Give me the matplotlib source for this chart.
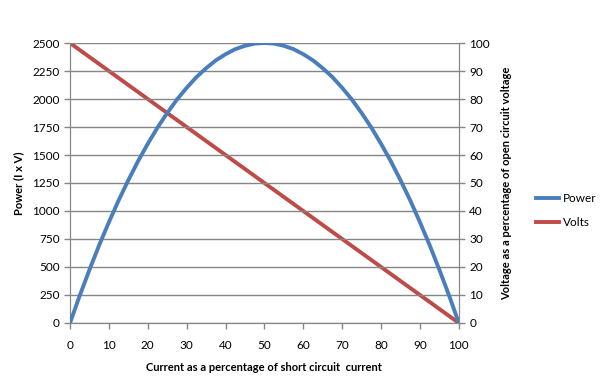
import matplotlib
matplotlib.use("Agg")
import matplotlib.pyplot as plt
from matplotlib.lines import Line2D

plt.rcParams['font.family'] = ['Lato', 'DejaVu Sans']

current = [0, 2.5, 5, 7.5, 10, 12.5, 15, 17.5, 20, 22.5, 25, 27.5, 30, 32.5, 35,
           37.5, 40, 42.5, 45, 47.5, 50, 52.5, 55, 57.5, 60, 62.5, 65, 67.5, 70,
           72.5, 75, 77.5, 80, 82.5, 85, 87.5, 90, 92.5, 95, 97.5, 100]
power = [0, 245, 475, 695, 900, 1095, 1275, 1445, 1600, 1745, 1875, 1995, 2100,
         2195, 2275, 2345, 2400, 2445, 2475, 2495, 2500, 2495, 2475, 2445, 2400,
         2345, 2275, 2195, 2100, 1995, 1875, 1745, 1600, 1445, 1275, 1095, 900,
         695, 475, 245, 0]
volts = [100, 97.5, 95, 92.5, 90, 87.5, 85, 82.5, 80, 77.5, 75, 72.5, 70, 67.5,
         65, 62.5, 60, 57.5, 55, 52.5, 50, 47.5, 45, 42.5, 40, 37.5, 35, 32.5, 30,
         27.5, 25, 22.5, 20, 17.5, 15, 12.5, 10, 7.5, 5, 2.5, 0]

blue = '#4a7ebb'
red = '#be4b48'
grey = '#868686'

fig = plt.figure(figsize=(6, 3.83), dpi=100)
ax = fig.add_axes([0.1167, 0.1567, 0.648, 0.731])
ax2 = ax.twinx()

ax.plot(current, power, color=blue, lw=2.8, solid_joinstyle='round', zorder=3)
ax2.plot(current, volts, color=red, lw=2.8, solid_joinstyle='round', zorder=3)
ax.set_zorder(ax2.get_zorder() + 1)
ax.patch.set_visible(False)

ax.set_xlim(0, 100)
ax.set_ylim(0, 2500)
ax2.set_ylim(0, 100)
ax.set_xticks(range(0, 101, 10))
ax.set_yticks(range(0, 2501, 250))
ax2.set_yticks(range(0, 101, 10))
ax.yaxis.grid(True, color=grey, lw=1)

for a in (ax, ax2):
    for s in a.spines.values():
        s.set_color(grey)
    a.spines['top'].set_visible(False)
    a.tick_params(colors=grey, labelcolor='black', labelsize=8.5, length=4, width=1)
ax.tick_params(axis='x', pad=8)

ax.set_xlabel('Current as a percentage of short circuit  current', fontsize=8,
              fontweight='bold', labelpad=8)
ax.set_ylabel('Power (I x V)', fontsize=8, fontweight='bold', labelpad=6)
ax2.set_ylabel('Voltage as a percentage of open circuit voltage', fontsize=8,
               fontweight='bold', labelpad=8)

handles = [Line2D([], [], color=blue, lw=2.8), Line2D([], [], color=red, lw=2.8)]
fig.legend(handles, ['Power', 'Volts'], loc='center left', bbox_to_anchor=(0.893, 0.45),
           frameon=False, fontsize=8.5, handlelength=2.0, labelspacing=1.1,
           handletextpad=0.3, borderpad=0, borderaxespad=0)

fig.savefig('out.png', dpi=100)
